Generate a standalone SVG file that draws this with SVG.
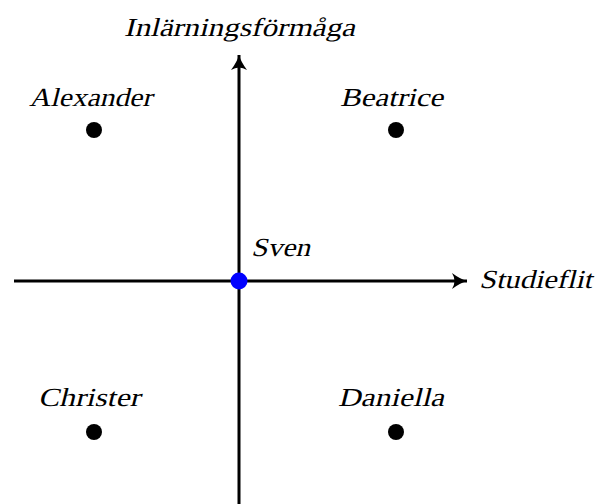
<svg xmlns="http://www.w3.org/2000/svg" width="597" height="504" viewBox="0 0 597 504">
<style>
.lbl{font-family:"Liberation Serif","Times New Roman",serif;font-size:26px;fill:#000}
.axis{stroke:#000;stroke-width:3;fill:none}
.dot{fill:#000}
</style>
<defs>
<marker id="arr" markerUnits="userSpaceOnUse" markerWidth="20" markerHeight="20" refX="15" refY="9" orient="auto">
<path d="M0,1 Q8,7 15,9 Q8,11 0,17 Q5,9 0,1 Z" fill="#000"/>
</marker>
</defs>
<rect width="597" height="504" fill="#fff"/>
<g id="connectors">
<line class="axis" x1="14" y1="281" x2="467" y2="281" marker-end="url(#arr)"/>
<line class="axis" x1="239" y1="504" x2="239" y2="55" marker-end="url(#arr)"/>
</g>
<g id="y-label" transform="translate(124,36) skewX(-14)"><text class="lbl" x="0" y="0" textLength="231" lengthAdjust="spacingAndGlyphs">Inlärningsförmåga</text></g>
<g id="x-label" transform="translate(479,288) skewX(-14)"><text class="lbl" x="0" y="0" textLength="113" lengthAdjust="spacingAndGlyphs">Studieflit</text></g>
<g id="alexander"><circle class="dot" cx="94" cy="130" r="8"/><g transform="translate(29,106) skewX(-14)"><text class="lbl" x="0" y="0" textLength="123" lengthAdjust="spacingAndGlyphs">Alexander</text></g></g>
<g id="beatrice"><circle class="dot" cx="396" cy="130" r="8"/><g transform="translate(340,106) skewX(-14)"><text class="lbl" x="0" y="0" textLength="103" lengthAdjust="spacingAndGlyphs">Beatrice</text></g></g>
<g id="christer"><circle class="dot" cx="94" cy="432" r="8"/><g transform="translate(38,406) skewX(-14)"><text class="lbl" x="0" y="0" textLength="102" lengthAdjust="spacingAndGlyphs">Christer</text></g></g>
<g id="daniella"><circle class="dot" cx="396" cy="432" r="8"/><g transform="translate(338,406) skewX(-14)"><text class="lbl" x="0" y="0" textLength="106" lengthAdjust="spacingAndGlyphs">Daniella</text></g></g>
<g id="sven"><circle cx="239" cy="281" r="8.5" fill="#0000ff"/><g transform="translate(251,256) skewX(-14)"><text class="lbl" x="0" y="0" textLength="59" lengthAdjust="spacingAndGlyphs">Sven</text></g></g>
</svg>
